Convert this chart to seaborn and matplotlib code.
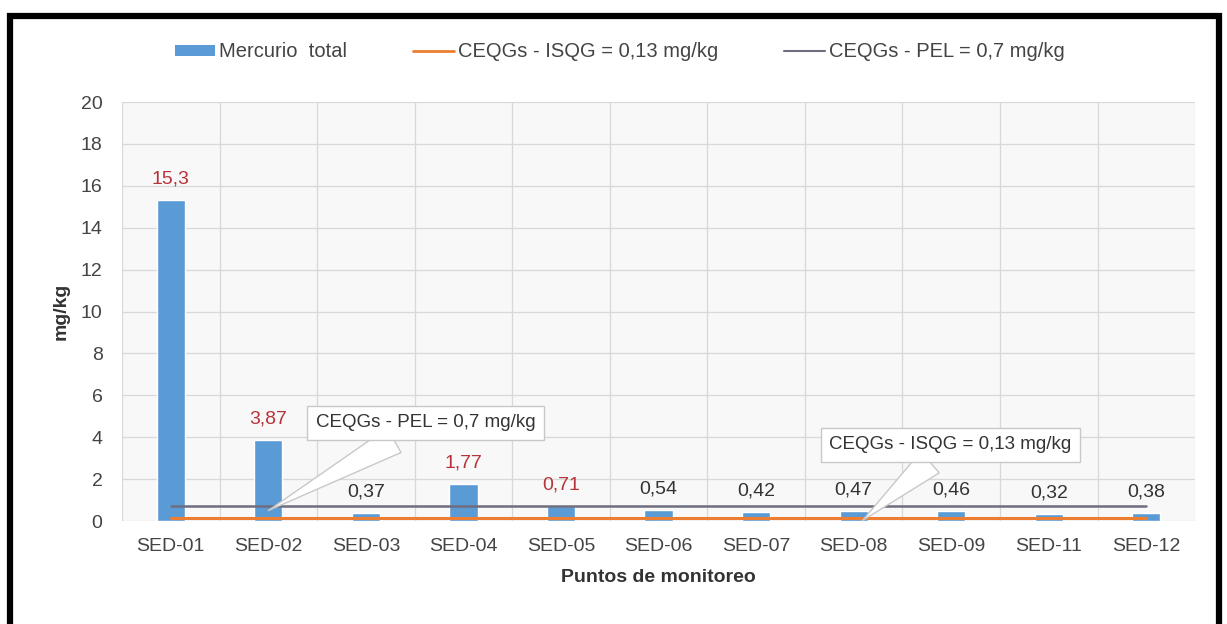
import matplotlib
matplotlib.use("Agg")
import matplotlib.pyplot as plt
import seaborn as sns
import pandas as pd
from matplotlib.lines import Line2D
from matplotlib.patches import Patch, Rectangle

categories = ["SED-01", "SED-02", "SED-03", "SED-04", "SED-05", "SED-06",
              "SED-07", "SED-08", "SED-09", "SED-11", "SED-12"]
mercurio = [15.3, 3.87, 0.37, 1.77, 0.71, 0.54, 0.42, 0.47, 0.46, 0.32, 0.38]
label_text = ["15,3", "3,87", "0,37", "1,77", "0,71", "0,54", "0,42", "0,47", "0,46", "0,32", "0,38"]
isqg = 0.13
pel = 0.7
yticks = list(range(0, 21, 2))

sns.set_theme(style="white")
plt.rcParams['font.family'] = ['Liberation Sans', 'DejaVu Sans']

df = pd.DataFrame({"Punto": categories, "Hg": mercurio})

fig = plt.figure(figsize=(12.27, 6.24), dpi=100)
ax = fig.add_axes([0.0994, 0.165, 0.8746, 0.6715])
ax.set_facecolor('#f8f8f8')

sns.barplot(data=df, x="Punto", y="Hg", color='#5B9BD5', width=0.29,
            saturation=1, ax=ax, zorder=3)

xs = list(range(len(categories)))
ax.plot(xs, [isqg] * len(xs), color='#ED7D31', lw=2.2, zorder=4)
ax.plot(xs, [pel] * len(xs), color='#6e6e7e', lw=1.8, zorder=4)

ax.set_xlim(-0.5, len(categories) - 0.5)
ax.set_ylim(0, 20)
ax.set_yticks(yticks)
ax.set_yticklabels([str(t) for t in yticks])

# grid
for y in yticks:
    ax.axhline(y, color='#d8d8d8', lw=0.9, zorder=1)
for i in range(len(categories) + 1):
    ax.axvline(i - 0.5, color='#d8d8d8', lw=0.9, zorder=1)

for s in ax.spines.values():
    s.set_visible(False)

ax.tick_params(axis='both', length=0, labelsize=14, colors='#444444')
ax.tick_params(axis='x', pad=12)
ax.tick_params(axis='y', pad=14)

# data labels
for i, (v, t) in enumerate(zip(mercurio, label_text)):
    col = '#b5333a' if v > pel else '#333333'
    ax.annotate(t, (i, v), xytext=(0, 9), textcoords='offset points',
                ha='center', va='bottom', fontsize=14, color=col, zorder=6)

ax.set_xlabel("Puntos de monitoreo", fontsize=14, fontweight='bold',
              color='#333333', labelpad=10)
ax.set_ylabel("mg/kg", fontsize=14, fontweight='bold', color='#333333', labelpad=8)

# callouts
box = dict(boxstyle='square,pad=0.45', fc='white', ec='#c8c8c8', lw=1)
arrow = dict(arrowstyle='wedge,tail_width=1.5,shrink_factor=0.5',
             fc='white', ec='#c8c8c8', lw=1, shrinkA=0, shrinkB=0)
ax.annotate("CEQGs - PEL = 0,7 mg/kg", xy=(1.0, 0.5), xytext=(2.61, 4.69),
            ha='center', va='center', fontsize=13.5, color='#333333', zorder=7,
            bbox=box, arrowprops=arrow)
ax.annotate("CEQGs - ISQG = 0,13 mg/kg", xy=(7.09, 0.02), xytext=(7.99, 3.64),
            ha='center', va='center', fontsize=13.5, color='#333333', zorder=7,
            bbox=box, arrowprops=arrow)

# legend
handles = [Patch(facecolor='#5B9BD5', edgecolor='none'),
           Line2D([0], [0], color='#ED7D31', lw=2),
           Line2D([0], [0], color='#6e6e7e', lw=1.5)]
labels = ["Mercurio  total", "CEQGs - ISQG = 0,13 mg/kg", "CEQGs - PEL = 0,7 mg/kg"]
fig.legend(handles, labels, loc='center', bbox_to_anchor=(0.505, 0.917), ncol=3,
           frameon=False, fontsize=14.5, handlelength=2.0, handleheight=0.45,
           columnspacing=3.3, handletextpad=0.2, labelcolor='#444444')

# outer frame
fig.patches.append(Rectangle((0.0081, -0.01), 0.985, 0.985, transform=fig.transFigure,
                             fill=False, ec='black', lw=4.5, zorder=10))

fig.savefig("out.png", dpi=100, facecolor='white')
